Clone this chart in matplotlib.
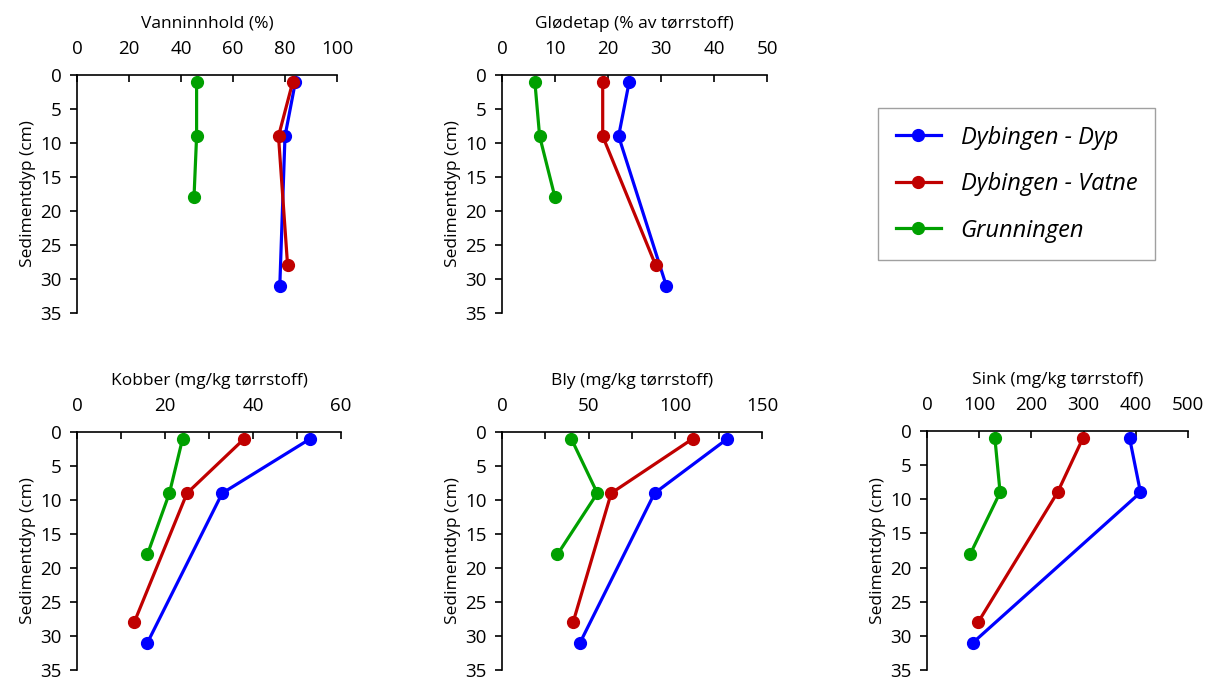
import matplotlib
matplotlib.use("Agg")
import matplotlib.pyplot as plt
from matplotlib.ticker import MultipleLocator, FixedLocator

plt.rcParams['font.family'] = ['Open Sans', 'DejaVu Sans']

# sample depths (cm)
depth_dyp = [1, 9, 31]
depth_vatne = [1, 9, 28]
depth_grunn = [1, 9, 18]

series_names = ['Dybingen - Dyp', 'Dybingen - Vatne', 'Grunningen']
colors = ['#0000ff', '#c00000', '#00a000']

# values per parameter: [Dyp, Vatne, Grunningen]
vann = [[84, 80, 78], [83, 77.5, 81], [46, 46, 45]]
glod = [[24, 22, 31], [19, 19, 29], [6.2, 7.1, 10]]
kobber = [[53, 33, 16], [38, 25, 13], [24, 21, 16]]
bly = [[130, 88, 45], [110, 63, 41], [40, 55, 32]]
sink = [[388, 409, 88], [299, 250, 98], [130, 140, 83]]

panels = [
    # title, data, xmax, tick step, label step, axes rect in pixels (l, t, r, b)
    ('Vanninnhold (%)', vann, 100, 20, 20, (77, 75, 337, 313)),
    ('Glødetap (% av tørrstoff)', glod, 50, 10, 10, (502, 75, 767, 313)),
    ('Kobber (mg/kg tørrstoff)', kobber, 60, 10, 20, (77, 432, 341, 670)),
    ('Bly (mg/kg tørrstoff)', bly, 150, 25, 50, (502, 432, 762, 670)),
    ('Sink (mg/kg tørrstoff)', sink, 500, 100, 100, (927, 431, 1188, 670)),
]

W, H = 1209, 680
fig = plt.figure(figsize=(W / 100, H / 100), dpi=100)

depths = [depth_dyp, depth_vatne, depth_grunn]
handles = []
for title, data, xmax, step, lstep, (l, t, r, b) in panels:
    ax = fig.add_axes([l / W, 1 - b / H, (r - l) / W, (b - t) / H])
    for vals, dep, c, name in zip(data, depths, colors, series_names):
        h, = ax.plot(vals, dep, '-o', color=c, lw=2.3, ms=8.5, label=name)
        if len(handles) < 3:
            handles.append(h)
    ax.set_xlim(0, xmax)
    ax.set_ylim(35, 0)
    ax.xaxis.tick_top()
    ax.xaxis.set_label_position('top')
    ticks = list(range(0, xmax + 1, step))
    ax.xaxis.set_major_locator(FixedLocator(ticks))
    ax.set_xticklabels([str(v) if v % lstep == 0 else '' for v in ticks])
    ax.yaxis.set_major_locator(MultipleLocator(5))
    ax.tick_params(axis='x', direction='in', length=5, width=1.2, labelsize=13.5, pad=12)
    ax.tick_params(axis='y', direction='out', length=5, width=1.2, labelsize=13.5, pad=6)
    for s in ['right', 'bottom']:
        ax.spines[s].set_visible(False)
    for s in ['left', 'top']:
        ax.spines[s].set_linewidth(1.2)
    ax.set_title(title, fontsize=12.5, pad=9)
    ax.set_ylabel('Sedimentdyp (cm)', fontsize=12.5, labelpad=3)

leg = fig.legend(handles, series_names, loc='upper left',
                 bbox_to_anchor=(878 / W, 1 - 108 / H), prop={'style': 'italic', 'size': 17},
                 frameon=True, fancybox=False, edgecolor='#888888', borderpad=0.75,
                 labelspacing=0.95, handlelength=1.9, handletextpad=0.85, borderaxespad=0)
leg.get_frame().set_linewidth(1.0)

fig.savefig('out.png', dpi=100)
